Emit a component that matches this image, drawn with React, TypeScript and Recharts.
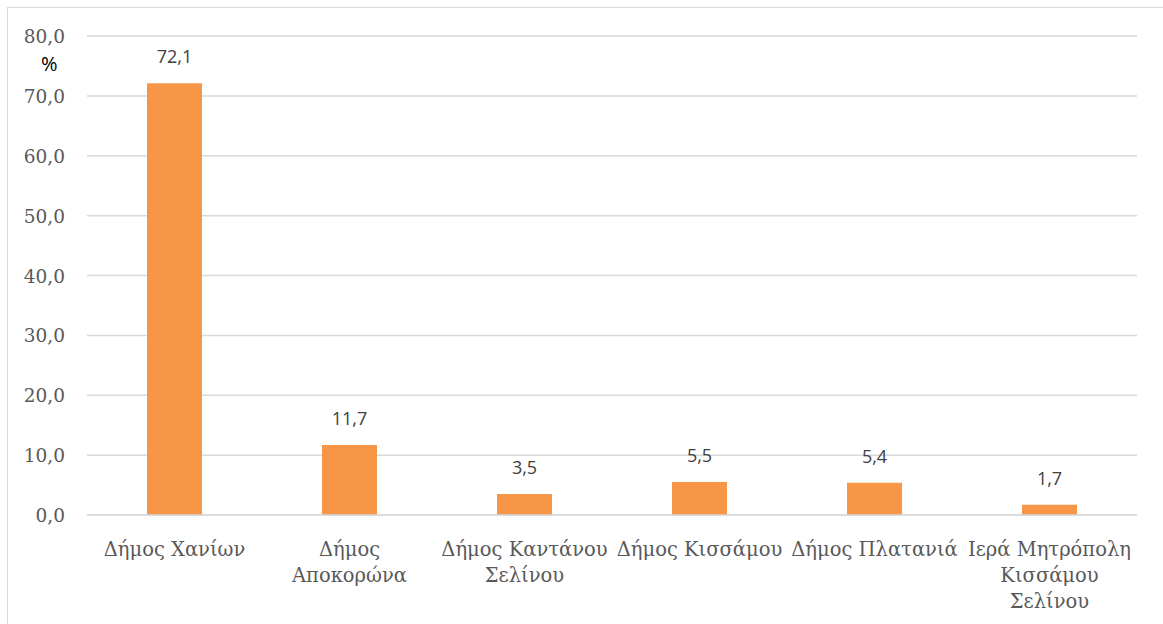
import React from "react";
import { BarChart, Bar, XAxis, YAxis, CartesianGrid, LabelList } from "recharts";

// categories (line breaks as in the original axis labels)
const categories = [
  "Δήμος Χανίων",
  "Δήμος\nΑποκορώνα",
  "Δήμος Καντάνου\nΣελίνου",
  "Δήμος Κισσάμου",
  "Δήμος Πλατανιά",
  "Ιερά Μητρόπολη\nΚισσάμου\nΣελίνου",
];
const shares = [72.1, 11.7, 3.5, 5.5, 5.4, 1.7];
const yTicks = [0, 10, 20, 30, 40, 50, 60, 70, 80];

const data = categories.map((name, i) => ({ name, value: shares[i] }));

const fmt = (v: number) => v.toFixed(1).replace(".", ",");

const serif = "'DejaVu Serif', serif";
const sans = "'Open Sans', 'Noto Sans', sans-serif";

const CategoryTick = (props: any) => {
  const { x, y, payload } = props;
  const lines = String(payload.value).split("\n");
  return (
    <g transform={`translate(${x},${y})`}>
      {lines.map((ln, i) => (
        <text
          key={i}
          x={0}
          y={33 + i * 26}
          textAnchor="middle"
          fill="#595959"
          fontSize={19.5}
          style={{ fontFamily: serif }}
        >
          {ln}
        </text>
      ))}
    </g>
  );
};

const YTick = (props: any) => {
  const { x, y, payload } = props;
  return (
    <text
      x={x}
      y={y}
      dy={7}
      textAnchor="end"
      fill="#595959"
      fontSize={18.5}
      style={{ fontFamily: serif }}
    >
      {fmt(Number(payload.value))}
    </text>
  );
};

const App: React.FC = () => {
  return (
    <div
      style={{
        position: "absolute",
        left: 0,
        top: 0,
        width: 1163,
        height: 624,
        background: "#fff",
      }}
    >
      <div
        style={{
          position: "absolute",
          left: 7,
          top: 7,
          right: 0,
          bottom: 0,
          borderLeft: "1.5px solid #d9d9d9",
          borderTop: "1.5px solid #d9d9d9",
        }}
      />
      <div
        style={{
          position: "absolute",
          left: 41,
          top: 50,
          fontFamily: sans,
          fontSize: 20,
          color: "#000",
        }}
      >
        %
      </div>
      <BarChart
        width={1163}
        height={624}
        data={data}
        margin={{ top: 36, right: 26, bottom: 0, left: 0 }}
        barCategoryGap={60}
        style={{ position: "absolute", left: 0, top: 0 }}
      >
        <CartesianGrid
          vertical={false}
          stroke="#d9d9d9"
          strokeWidth={1.5}
        />
        <XAxis
          dataKey="name"
          interval={0}
          height={109}
          axisLine={{ stroke: "#d9d9d9", strokeWidth: 1.5 }}
          tickLine={false}
          tick={<CategoryTick />}
        />
        <YAxis
          domain={[0, 80]}
          ticks={yTicks}
          axisLine={false}
          tickLine={false}
          width={87}
          tickMargin={16}
          tick={<YTick />}
        />
        <Bar dataKey="value" fill="#F79646" barSize={55} isAnimationActive={false}>
          <LabelList
            dataKey="value"
            position="top"
            offset={20}
            formatter={(v: any) => fmt(Number(v))}
            style={{ fill: "#404040", fontFamily: sans, fontSize: 18 }}
          />
        </Bar>
      </BarChart>
    </div>
  );
};

export default App;
